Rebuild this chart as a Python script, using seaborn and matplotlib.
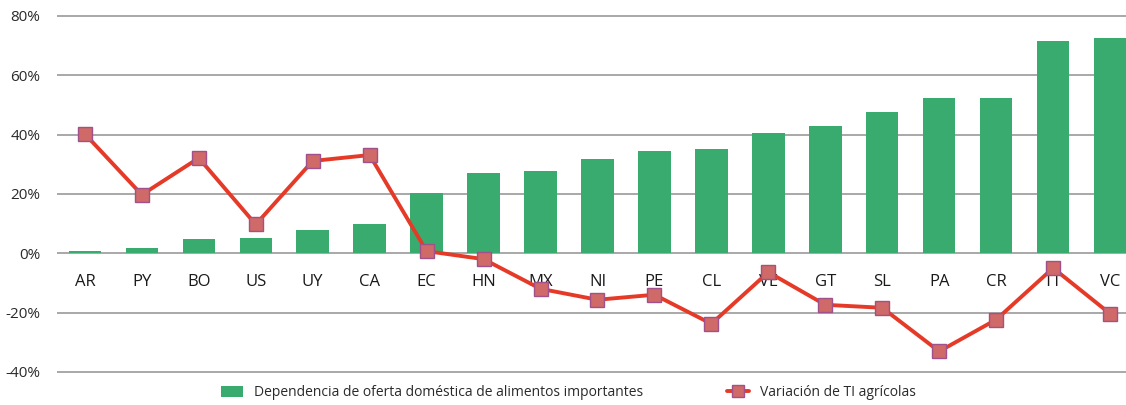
import matplotlib
matplotlib.use("Agg")
import matplotlib.pyplot as plt
import seaborn as sns
import pandas as pd
from matplotlib.lines import Line2D
from matplotlib.patches import Patch

paises = ["AR", "PY", "BO", "US", "UY", "CA", "EC", "HN", "MX", "NI",
          "PE", "CL", "VE", "GT", "SL", "PA", "CR", "TT", "VC"]
dependencia = [0.6, 1.7, 4.7, 5.0, 7.7, 9.7, 20.4, 27.1, 27.8, 31.8,
               34.5, 35.1, 40.5, 42.8, 47.5, 52.2, 52.5, 71.6, 72.6]
variacion_ti = [40.2, 19.7, 32.1, 9.7, 31.1, 33.1, 0.7, -2.0, -12.0, -15.7,
                -14.0, -23.8, -6.4, -17.4, -18.4, -33.1, -22.4, -5.0, -20.4]
yticks = [-40, -20, 0, 20, 40, 60, 80]

verde = "#3aab6e"
rojo = "#e63a28"

sns.set_style("white")
plt.rcParams["font.family"] = ["Open Sans", "DejaVu Sans"]

df = pd.DataFrame({"pais": paises, "dep": dependencia, "ti": variacion_ti})

fig = plt.figure(figsize=(11.26, 4.05), dpi=100)
ax = fig.add_axes([0.0506, 0.0775, 0.9494, 0.8875])

for t in yticks:
    ax.axhline(t, color="#a8a8a8", lw=1.4, zorder=1)

sns.barplot(data=df, x="pais", y="dep", color=verde, width=0.57,
            saturation=1, linewidth=0, ax=ax, zorder=2)
sns.lineplot(data=df, x="pais", y="ti", sort=False, color=rojo, lw=2.8,
             marker="s", markersize=10, markerfacecolor="#d06a68",
             markeredgecolor="#a0508a", markeredgewidth=1.0, ax=ax, zorder=3)

ax.set_ylim(-40.6, 80.6)
ax.set_xlim(-0.49, 18.28)
ax.set_yticks(yticks)
ax.set_yticklabels([f"{t}%" for t in yticks])
ax.tick_params(axis="y", length=0, pad=12, labelsize=11, labelcolor="#2a2a2a")
ax.spines["bottom"].set_position(("data", 0))
ax.tick_params(axis="x", length=0, pad=15, labelsize=12, labelcolor="#1a1a1a")
for s in ["top", "right", "left", "bottom"]:
    ax.spines[s].set_visible(False)
ax.set_xlabel("")
ax.set_ylabel("")

handles = [Patch(facecolor=verde, edgecolor="none"),
           Line2D([0], [0], color=rojo, lw=2.8, marker="s", markersize=9,
                  markerfacecolor="#d06a68", markeredgecolor="#a0508a")]
labels = ["Dependencia de oferta doméstica de alimentos importantes",
          "Variación de TI agrícolas"]
fig.legend(handles, labels, loc="center", bbox_to_anchor=(0.505, 0.03), ncol=2,
           frameon=False, fontsize=10, columnspacing=6, handlelength=1.6,
           handleheight=0.8, labelcolor="#2a2a2a")

fig.savefig("out.png", dpi=100)
